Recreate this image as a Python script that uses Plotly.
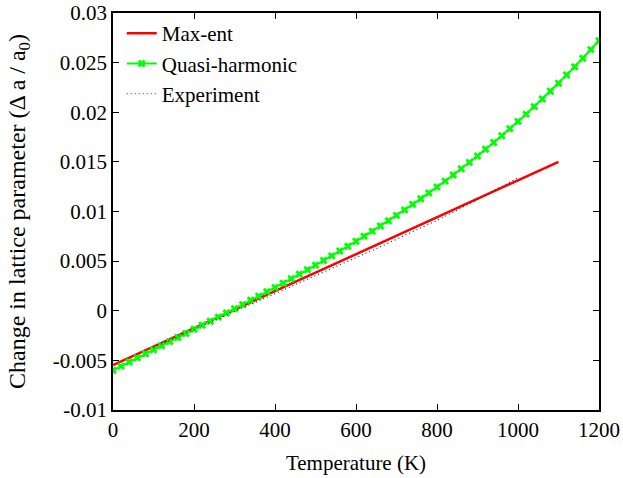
import plotly.graph_objects as go

# Temperature grid (K) and lattice-parameter change for each model
qh_temp = list(range(0, 1201, 20))
qh_change = [
    -0.00600, -0.00558, -0.00517, -0.00475, -0.00434, -0.00393, -0.00352, -0.00311,
    -0.00270, -0.00229, -0.00187, -0.00146, -0.00105, -0.00064, -0.00022, 0.00020,
    0.00062, 0.00105, 0.00147, 0.00191, 0.00234, 0.00278, 0.00323, 0.00368,
    0.00413, 0.00459, 0.00506, 0.00553, 0.00602, 0.00650, 0.00700, 0.00750,
    0.00802, 0.00854, 0.00907, 0.00961, 0.01016, 0.01072, 0.01129, 0.01187,
    0.01246, 0.01306, 0.01368, 0.01431, 0.01495, 0.01560, 0.01627, 0.01695,
    0.01764, 0.01835, 0.01907, 0.01981, 0.02057, 0.02134, 0.02212, 0.02293,
    0.02375, 0.02458, 0.02544, 0.02631, 0.02720,
]

maxent_temp = [0, 100, 200, 300, 400, 500, 600, 700, 800, 900, 1000, 1100]
maxent_change = [-0.00547, -0.00361, -0.00175, 0.00011, 0.00197, 0.00384,
                 0.00570, 0.00756, 0.00942, 0.01128, 0.01314, 0.01500]

exp_temp = [100, 150, 200, 250, 300, 350, 400, 450, 500, 550,
            600, 650, 700, 750, 800, 850, 900, 950, 1000]
exp_change = [-0.0037, -0.0028, -0.0019, -0.0010, -0.0001, 0.0008, 0.0017, 0.0026,
              0.0035, 0.0044, 0.0053, 0.00625, 0.0072, 0.00815, 0.0091, 0.01015,
              0.0112, 0.0123, 0.0134]

x_ticks = [0, 200, 400, 600, 800, 1000, 1200]
y_ticks = [-0.01, -0.005, 0, 0.005, 0.01, 0.015, 0.02, 0.025, 0.03]
y_tick_text = ["-0.01", "-0.005", "0", "0.005", "0.01", "0.015", "0.02", "0.025", "0.03"]

FONT = "Liberation Serif, Times New Roman, serif"
FS = 21

fig = go.Figure()
fig.add_trace(go.Scatter(
    x=maxent_temp, y=maxent_change, name="Max-ent", mode="lines",
    line=dict(color="#ff0000", width=2.5),
))
fig.add_trace(go.Scatter(
    x=qh_temp, y=qh_change, name="Quasi-harmonic", mode="lines+markers",
    line=dict(color="#00ff00", width=2),
    marker=dict(symbol="x", size=7, color="#00ff00"),
))
fig.add_trace(go.Scatter(
    x=exp_temp, y=exp_change, name="Experiment", mode="lines",
    line=dict(color="#333333", width=1.2, dash="1px,3px"),
))

axis_common = dict(
    showline=True, linecolor="black", linewidth=1.5, mirror="allticks",
    ticks="inside", ticklen=6, tickcolor="black", tickwidth=1,
    showgrid=False, zeroline=False, automargin=False,
    tickfont=dict(family=FONT, size=FS, color="black"),
)

fig.update_layout(
    width=623, height=478,
    margin=dict(l=113, r=24, t=13, b=68),
    paper_bgcolor="white", plot_bgcolor="white",
    font=dict(family=FONT, size=FS, color="black"),
    xaxis=dict(
        range=[0, 1200], tickvals=x_ticks,
        title=dict(text="Temperature (K)", font=dict(family=FONT, size=FS), standoff=14),
        **axis_common,
    ),
    yaxis=dict(
        range=[-0.01, 0.03], tickvals=y_ticks, ticktext=y_tick_text,
        title=dict(text="Change in lattice parameter (Δ a / a<sub>0</sub>)",
                   font=dict(family=FONT, size=24), standoff=20),
        **axis_common,
    ),
    legend=dict(
        x=0.018, y=1.0, xanchor="left", yanchor="top",
        bgcolor="rgba(0,0,0,0)", font=dict(family=FONT, size=FS),
        tracegroupgap=0, itemwidth=30,
    ),
    showlegend=True,
)

fig.write_html("out.html")
